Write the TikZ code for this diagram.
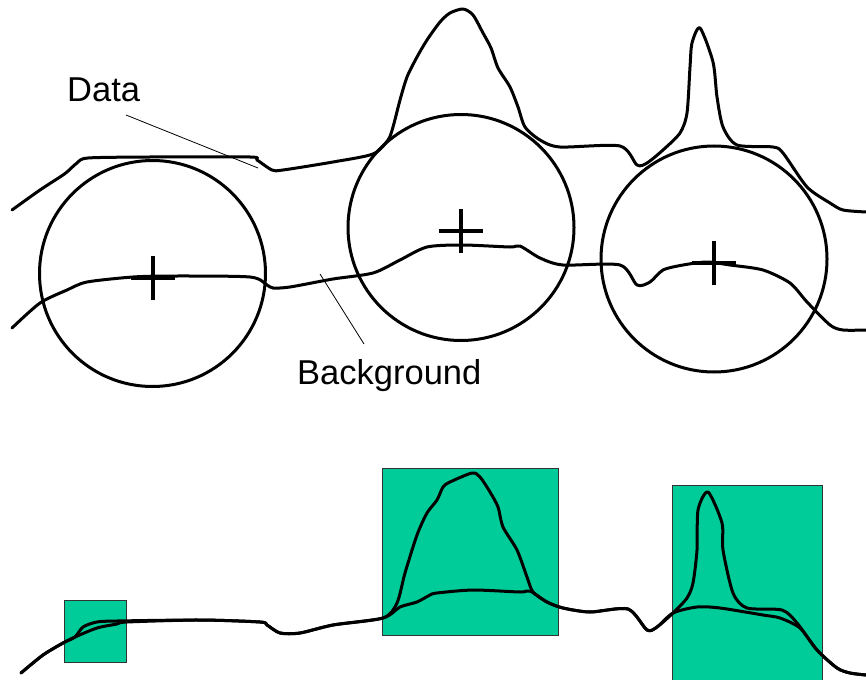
\documentclass[tikz,border=0pt]{standalone}
\usepackage{fontspec}
\setmainfont{Liberation Sans}
\definecolor{boxgreen}{HTML}{00CC99}
\definecolor{boxedge}{HTML}{333333}
\begin{document}
\begin{tikzpicture}[x=1pt,y=-1pt,
  curve/.style={line width=3pt, line join=round, line cap=round},
  ring/.style={circle, draw, line width=3pt, minimum size=226pt, inner sep=0pt},
  crossline/.style={line width=3.4pt},
  leader/.style={line width=0.8pt},
  lbl/.style={font=\fontsize{34.5}{40}\selectfont, inner sep=0pt, anchor=base west},
  greenbox/.style={draw=boxedge, fill=boxgreen, line width=0.9pt, inner sep=0pt}]
\useasboundingbox (0,0) rectangle (866,679);
\clip (0,0) rectangle (866,679);

% ---------- top panel ----------
\node[ring] (c1) at (152.5,273.5) {};
\node[ring] (c2) at (461,227.5) {};
\node[ring] (c3) at (714,259) {};

\draw[curve] plot[smooth, tension=0.45] coordinates {
 (12,210) (40,190) (60,177) (67,172) (77,163) (88,158) (150,157) (250,157) (257,160)
 (272,170) (283,170) (333,162) (373,154) (388,140) (393,127) (400,100) (407,77) (417,57)
 (427,40) (440,22) (450,13) (463,9) (473,15) (483,33) (491,48) (498,68) (510,87) (518,107)
 (525,127) (540,140) (560,147) (620,146) (637,165) (647,163) (663,150) (680,133) (687,113)
 (690,67) (692,43) (700,28) (713,62) (717,97) (723,127) (737,145) (773,147) (783,153)
 (807,187) (830,203) (843,210) (866,212)};

\draw[curve] plot[smooth, tension=0.45] coordinates {
 (12,328) (40,303) (67,290) (87,282) (133,277) (173,276) (250,277) (267,285) (273,288)
 (290,287) (333,279) (373,273) (400,260) (427,247) (463,245) (510,247) (520,246) (540,258)
 (563,265) (620,265) (637,285) (650,282) (663,270) (683,265) (707,262) (730,265) (763,270)
 (790,283) (807,302) (830,325) (843,330) (866,330)};

\coordinate (x1) at (153,278);
\coordinate (x2) at (461,231);
\coordinate (x3) at (714,263);
\foreach \p in {x1,x2,x3}{
  \draw[crossline] ([xshift=-22pt]\p) -- ([xshift=22pt]\p);
  \draw[crossline] ([yshift=-22pt]\p) -- ([yshift=22pt]\p);
}

\node[lbl] (data) at (67,102) {Data};
\node[lbl] (bg) at (297,384) {Background};
\coordinate (dataend) at (258,168);
\coordinate (bgend) at (320,274);
\draw[leader] (126,115) -- (dataend);
\draw[leader] (364,344) -- (bgend);

% ---------- bottom panel ----------
\node[greenbox, minimum width=62pt, minimum height=62pt] (r1) at (95,631) {};
\node[greenbox, minimum width=176pt, minimum height=167pt] (r2) at (470,551.5) {};
\node[greenbox, minimum width=150pt, minimum height=215pt] (r3) at (747,592.5) {};

\draw[curve] plot[smooth, tension=0.45] coordinates {
 (21,673) (43,655) (63,643) (75,637) (97,628) (117,624) (127,622) (200,620) (260,622)
 (267,625) (280,633) (300,633) (333,625) (383,618) (400,607) (417,602) (430,595) (437,593)
 (473,590) (520,592) (530,591) (547,602) (563,608) (590,612) (628,609) (647,630) (657,627)
 (673,613) (697,607) (720,608) (763,615) (780,618) (800,628) (817,650) (837,668) (850,673)
 (866,675)};

\draw[curve] plot[smooth, tension=0.45] coordinates {
 (21,673) (43,655) (63,643) (75,637) (83,627) (97,622) (117,621) (200,620) (260,622)
 (267,625) (280,633) (300,633) (333,625) (383,618) (397,603) (405,573) (417,535) (427,513)
 (437,500) (443,487) (450,482) (472,473) (480,477) (490,492) (498,507) (503,527) (517,550) (527,577)
 (533,592) (547,602) (563,608) (590,612) (628,609) (647,630) (657,627) (673,613) (687,598)
 (693,583) (697,550) (698,510) (708,492) (722,523) (723,550) (733,593) (747,608) (782,610)
 (797,623) (817,650) (837,668) (850,673) (866,675)};
\end{tikzpicture}
\end{document}
